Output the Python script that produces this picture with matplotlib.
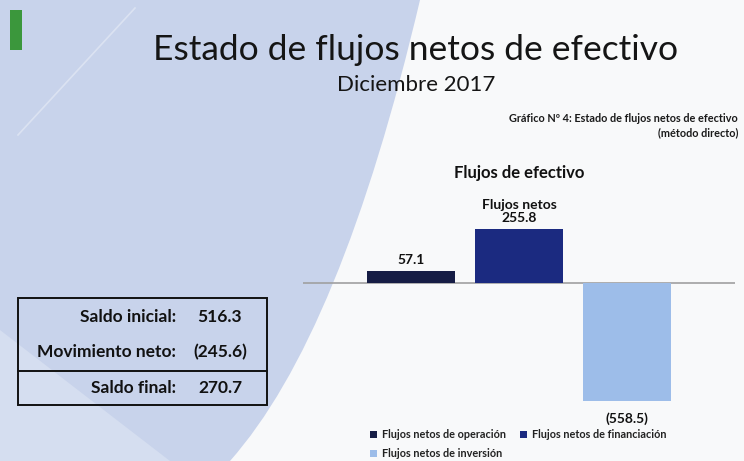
import matplotlib
matplotlib.use("Agg")
import matplotlib.pyplot as plt
from matplotlib.path import Path
from matplotlib.patches import PathPatch, Rectangle, Polygon

plt.rcParams['font.family'] = ['Lato', 'DejaVu Sans']

# ---- data ----
categories = ["Flujos netos de operación", "Flujos netos de financiación", "Flujos netos de inversión"]
values = [57.1, 255.8, -558.5]
value_labels = ["57.1", "Flujos netos\n255.8", "(558.5)"]
colors = ["#161d45", "#1b2a80", "#9dbde9"]

summary_labels = ["Saldo inicial:", "Movimiento neto:", "Saldo final:"]
summary_values = ["516.3", "(245.6)", "270.7"]

title = "Estado de flujos netos de efectivo"
subtitle = "Diciembre 2017"
caption = "Gráfico Nº 4: Estado de flujos netos de efectivo\n(método directo)"
chart_title = "Flujos de efectivo"

W, H = 744, 461
fig = plt.figure(figsize=(W / 100, H / 100), dpi=100)
fig.patch.set_facecolor("#f8f9fa")

# ---- background decoration (pixel coordinates) ----
bg = fig.add_axes([0, 0, 1, 1], zorder=0)
bg.set_xlim(0, W)
bg.set_ylim(H, 0)
bg.axis("off")
verts = [(0, 0), (420, 0), (341, 336), (230, 461), (0, 461), (0, 0)]
codes = [Path.MOVETO, Path.LINETO, Path.CURVE3, Path.CURVE3, Path.LINETO, Path.CLOSEPOLY]
bg.add_patch(PathPatch(Path(verts, codes), facecolor="#c8d3eb", edgecolor="none"))
bg.add_patch(Polygon([(0, 330), (0, 461), (170, 461)], closed=True, facecolor="#d5def0", edgecolor="none"))
bg.plot([18, 135], [135, 8], color="white", lw=1.2, alpha=0.35)
bg.add_patch(Rectangle((10, 10), 12, 40, facecolor="#3b973c", edgecolor="none"))

# titles
fig.text(416 / W, 1 - 50 / H, title, ha="center", va="center", fontsize=25.5, color="#151515")
fig.text(416 / W, 1 - 85 / H, subtitle, ha="center", va="center", fontsize=16, color="#151515")
fig.text(738 / W, 1 - 126 / H, caption, ha="right", va="center", fontsize=7.8,
         fontweight="bold", color="#1a1a1a", linespacing=1.35, multialignment="right")

# ---- summary box ----
bg.add_patch(Rectangle((18, 298), 249, 107, facecolor="none", edgecolor="#111111", lw=1.4))
bg.plot([18, 267], [371, 371], color="#111111", lw=1.4)
row_y = [317, 352, 388]
for lab, val, y in zip(summary_labels, summary_values, row_y):
    bg.text(176, y, lab, ha="right", va="center", fontsize=12.5, fontweight="bold", color="#111111")
    bg.text(220, y, val, ha="center", va="center", fontsize=12.5, fontweight="bold", color="#111111")

# ---- bar chart ----
ax = fig.add_axes([303 / W, 1 - 410 / H, 432 / W, 210 / H], zorder=2)
ax.patch.set_alpha(0)
ax.set_xlim(-1.0, 3.0)
ax.set_ylim(-600, 395)
x = list(range(len(categories)))
bars = []
for xi, v, c, cat in zip(x, values, colors, categories):
    b = ax.bar(xi, v, width=0.81, color=c, label=cat, zorder=3)
    bars.append(b)
ax.axhline(0, xmin=0, xmax=1, color="#a0a0a0", lw=1.2, zorder=2)
for xi, v, lab in zip(x, values, value_labels):
    if v >= 0:
        ax.annotate(lab, (xi, v), xytext=(0, 4), textcoords="offset points",
                    ha="center", va="bottom", fontsize=10, fontweight="bold",
                    color="#111111", linespacing=1.1)
    else:
        ax.annotate(lab, (xi, v), xytext=(0, -8), textcoords="offset points",
                    ha="center", va="top", fontsize=10, fontweight="bold", color="#111111")
for s in ax.spines.values():
    s.set_visible(False)
ax.set_xticks([])
ax.set_yticks([])

fig.text(519 / W, 1 - 173 / H, chart_title, ha="center", va="center",
         fontsize=12, fontweight="bold", color="#111111")

handles = [bars[0], bars[2], bars[1]]
labels = [categories[0], categories[2], categories[1]]
fig.legend(handles, labels, ncol=2, loc="upper left",
           bbox_to_anchor=(370 / W, 1 - 429 / H), frameon=False,
           prop={"size": 7.8, "weight": "bold"}, handlelength=0.6, handleheight=0.6,
           handletextpad=0.5, columnspacing=1.3, labelspacing=0.75,
           borderaxespad=0, borderpad=0, labelcolor="#222222")

fig.savefig("out.png", dpi=100, facecolor=fig.get_facecolor())
